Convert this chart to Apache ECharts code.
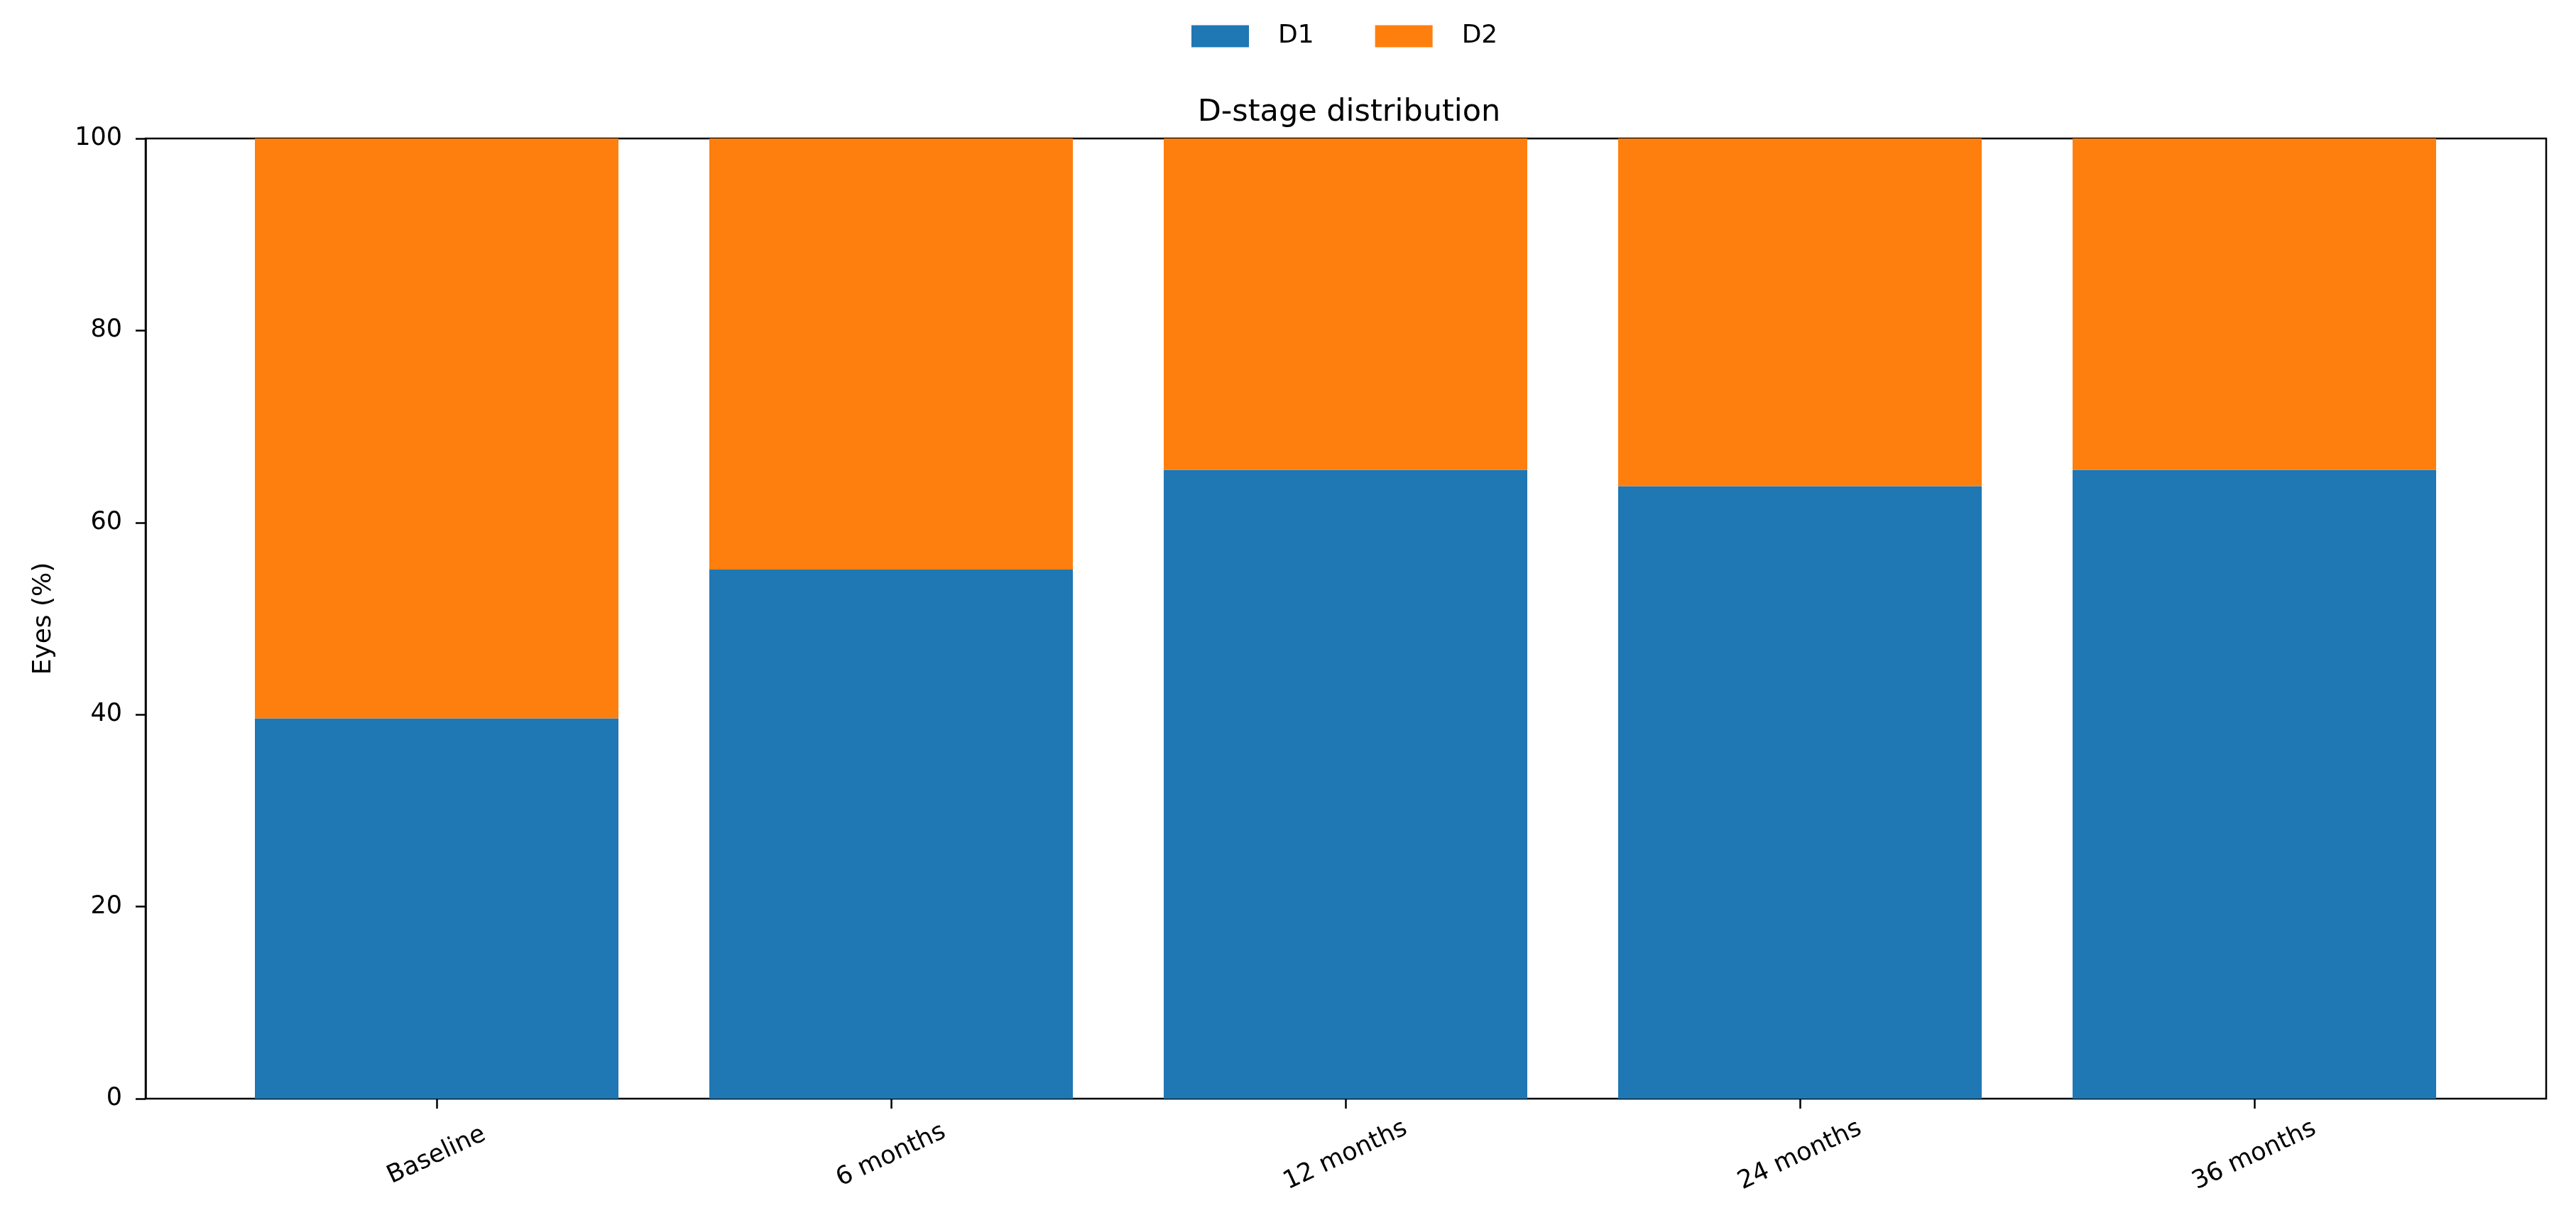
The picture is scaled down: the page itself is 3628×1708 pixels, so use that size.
<!DOCTYPE html>
<html>
<head>
<meta charset="utf-8">
<script src="https://cdn.jsdelivr.net/npm/echarts@6/dist/echarts.min.js"></script>
<style>
html, body { margin: 0; padding: 0; background: #fff; }
#chart { width: 3628px; height: 1708px; }
</style>
</head>
<body>
<div id="chart"></div>
<script>
// data
const categories = ['Baseline', '6 months', '12 months', '24 months', '36 months'];
const d1Values = [39.6, 55.1, 65.5, 63.8, 65.5];
const d2Values = [60.4, 44.9, 34.5, 36.2, 34.5];
const yTicks = [0, 20, 40, 60, 80, 100];

const font = 'DejaVu Sans';
const chart = echarts.init(document.getElementById('chart'));

const option = {
	backgroundColor: '#fff',
	animation: false,
	textStyle: { fontFamily: font },
	color: ['#1f77b4', '#ff7f0e'],
	title: {
		text: 'D-stage distribution',
		left: 1895,
		top: 132,
		textAlign: 'center',
		textStyle: { fontFamily: font, fontSize: 43, fontWeight: 'normal', color: '#000' }
	},
	legend: {
		data: ['D1', 'D2'],
		left: 1673,
		top: 28,
		itemWidth: 81,
		itemHeight: 31,
		itemGap: 86,
		icon: 'rect',
		textStyle: { fontFamily: font, fontSize: 36, color: '#000', padding: [0, 0, 0, 36] }
	},
	grid: [
		// frame with the y ticks
		{ left: 205, top: 195, width: 3381, height: 1352, show: true, borderColor: '#000', borderWidth: 2.5, containLabel: false },
		// bars, narrowed so that the category band matches the plotted area
		{ left: 615 - 320, top: 195, width: 3200, height: 1352, containLabel: false }
	],
	xAxis: [
		{ gridIndex: 0, type: 'value', min: 0, max: 1, show: false },
		{
			gridIndex: 1,
			type: 'category',
			data: categories,
			axisLine: { show: false },
			axisTick: { show: true, alignWithLabel: true, length: 14, lineStyle: { color: '#000', width: 2.5 } },
			axisLabel: {
				rotate: 25,
				align: 'center',
				verticalAlign: 'middle',
				margin: 80,
				fontFamily: font,
				fontSize: 35,
				color: '#000'
			}
		}
	],
	yAxis: [
		{
			gridIndex: 0,
			type: 'value',
			min: yTicks[0],
			max: yTicks[yTicks.length - 1],
			interval: 20,
			name: 'Eyes (%)',
			nameLocation: 'middle',
			nameGap: 125,
			nameTextStyle: { fontFamily: font, fontSize: 36, color: '#000' },
			axisLine: { show: true, lineStyle: { color: '#000', width: 2.5 } },
			axisTick: { show: true, length: 14, lineStyle: { color: '#000', width: 2.5 } },
			axisLabel: { margin: 33, fontFamily: font, fontSize: 35, color: '#000' },
			splitLine: { show: false }
		},
		{ gridIndex: 1, type: 'value', min: 0, max: 100, show: false }
	],
	series: [
		{
			name: 'D1',
			type: 'bar',
			stack: 'stage',
			xAxisIndex: 1,
			yAxisIndex: 1,
			barWidth: '80%',
			data: d1Values,
			itemStyle: { color: '#1f77b4' }
		},
		{
			name: 'D2',
			type: 'bar',
			stack: 'stage',
			xAxisIndex: 1,
			yAxisIndex: 1,
			barWidth: '80%',
			data: d2Values,
			itemStyle: { color: '#ff7f0e' }
		}
	]
};

chart.setOption(option);
</script>
</body>
</html>
